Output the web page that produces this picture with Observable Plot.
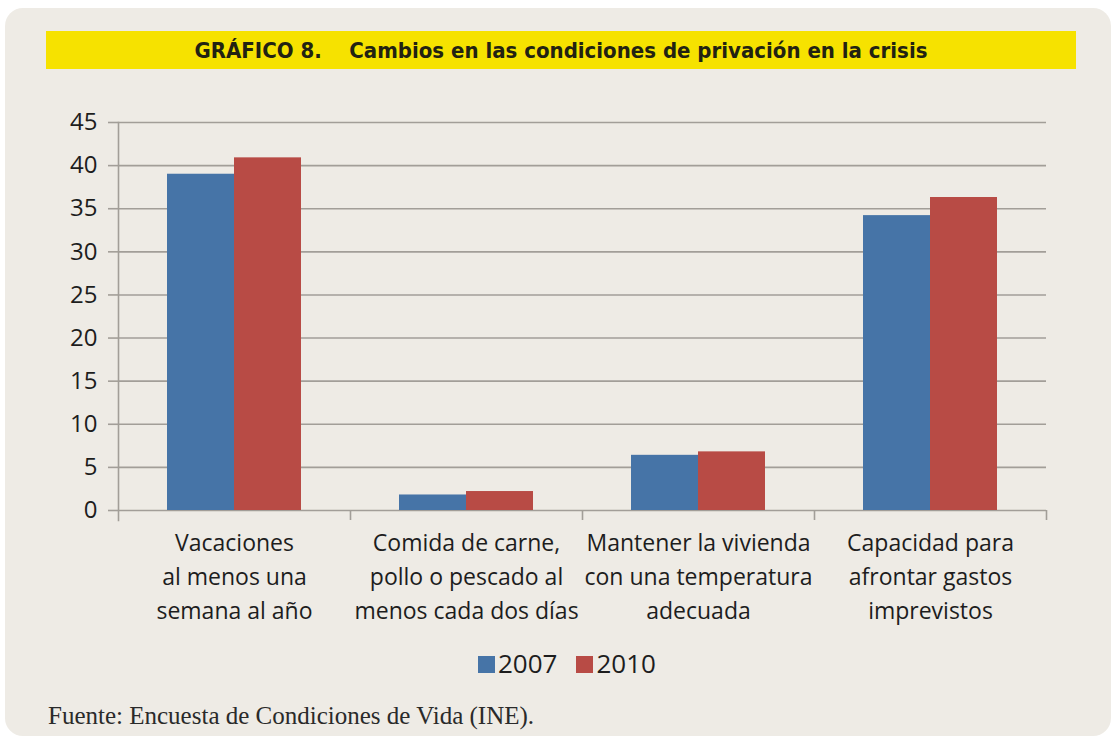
<!DOCTYPE html>
<html>
<head>
<meta charset="utf-8">
<script src="https://cdn.jsdelivr.net/npm/d3@7"></script>
<script src="https://cdn.jsdelivr.net/npm/@observablehq/plot@0.6"></script>
<style>
  html, body { margin: 0; padding: 0; background: #ffffff; }
  #page { position: relative; width: 1113px; height: 742px; overflow: hidden; }
  #panel { position: absolute; left: 5px; top: 8px; width: 1106px; height: 728px; background: #EEEBE5; border-radius: 18px; }
  #banner { position: absolute; left: 46px; top: 31px; width: 1030px; height: 38px; background: #F6E200;
    display: flex; align-items: center; justify-content: center;
    font-family: "DejaVu Sans Condensed", "DejaVu Sans", sans-serif; font-stretch: condensed;
    font-weight: bold; font-size: 22px; color: #222212; white-space: pre; }
  #chart { position: absolute; left: 0; top: 0; }
  #legend { position: absolute; left: 478px; top: 650px; display: flex; align-items: center;
    font-family: "Open Sans", sans-serif; font-size: 26px; line-height: 1; color: #1d1d1d; }
  .item { display: flex; align-items: center; margin-right: 19px; }
  .sw { width: 17px; height: 17px; margin-right: 3px; margin-top: 3px; }
  #caption { position: absolute; left: 48px; top: 703px; font-family: "Liberation Serif", "DejaVu Serif", serif; font-size: 25px; line-height: 1; color: #2a2a2a; }
</style>
</head>
<body>
<div id="page">
  <div id="panel"></div>
  <div id="banner">GRÁFICO 8.    Cambios en las condiciones de privación en la crisis</div>
  <div id="chart"></div>
  <div id="legend"></div>
  <div id="caption">Fuente: Encuesta de Condiciones de Vida (INE).</div>
</div>
<script>
const categories = [
  "Vacaciones\nal menos una\nsemana al año",
  "Comida de carne,\npollo o pescado al\nmenos cada dos días",
  "Mantener la vivienda\ncon una temperatura\nadecuada",
  "Capacidad para\nafrontar gastos\nimprevistos"
];
const series = ["2007", "2010"];
const values2007 = [39.0, 1.8, 6.4, 34.2];
const values2010 = [40.9, 2.2, 6.8, 36.3];
const yTicks = [0, 5, 10, 15, 20, 25, 30, 35, 40, 45];
const colors = ["#4674A7", "#B84B45"];

const data = [];
categories.forEach((c, i) => {
  data.push({category: c, year: series[0], value: values2007[i]});
  data.push({category: c, year: series[1], value: values2010[i]});
});

const gridColor = "#A29E98";
const textColor = "#1d1d1d";

const plot = Plot.plot({
  width: 1113,
  height: 650,
  marginLeft: 118,
  marginRight: 67,
  marginTop: 122,
  marginBottom: 140,
  style: {background: "transparent", fontFamily: "'Open Sans', sans-serif", color: textColor},
  fx: {domain: categories, paddingInner: 0, paddingOuter: 0, label: null, axis: null},
  x: {domain: series, paddingInner: 0, paddingOuter: 0.73, axis: null},
  y: {domain: [0, 45], ticks: yTicks, label: null, axis: null},
  color: {domain: series, range: colors},
  marks: [
    Plot.gridY({ticks: yTicks, stroke: gridColor, strokeOpacity: 1, strokeWidth: 1.6}),
    Plot.axisY({ticks: yTicks, anchor: "left", tickSize: 10, tickPadding: 11, stroke: gridColor, strokeWidth: 1.6, fontSize: 24, fill: textColor, label: null}),
    Plot.barY(data, {fx: "category", x: "year", y: "value", fill: "year"}),
    Plot.frame({anchor: "left", facet: "super", stroke: gridColor, strokeWidth: 1.6, insetBottom: -10}),
    Plot.axisFx({anchor: "bottom", tickSize: 10, dx: 116, stroke: gridColor, strokeWidth: 1.6, tickFormat: () => "", label: null}),
    Plot.axisFx({anchor: "bottom", tickSize: 0, tickPadding: 17, fontSize: 23, lineHeight: 1.46, fill: textColor, label: null})
  ]
});
document.getElementById("chart").appendChild(plot);

const legend = document.getElementById("legend");
series.forEach((s, i) => {
  const item = document.createElement("div");
  item.className = "item";
  const sw = document.createElement("div");
  sw.className = "sw";
  sw.style.background = colors[i];
  const t = document.createElement("span");
  t.textContent = s;
  item.appendChild(sw);
  item.appendChild(t);
  legend.appendChild(item);
});
</script>
</body>
</html>
